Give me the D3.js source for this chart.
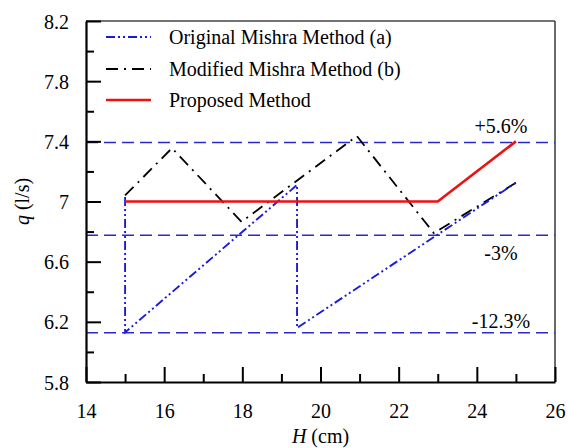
<!DOCTYPE html>
<html><head><meta charset="utf-8">
<script src="https://cdn.jsdelivr.net/npm/d3@7"></script>
<style>
body{margin:0;background:#fff;}
svg{display:block;}
</style></head>
<body>
<script>
// ---- data ----
const xTicks = [14, 16, 18, 20, 22, 24, 26];
const yTicks = [5.8, 6.2, 6.6, 7, 7.4, 7.8, 8.2];
const originalH = [15, 15, 19.4, 19.4, 25];
const originalQ = [7.03, 6.13, 7.11, 6.16, 7.125];
const modifiedH = [15, 16.2, 17.98, 20.93, 22.9, 25];
const modifiedQ = [7.04, 7.355, 6.865, 7.435, 6.79, 7.125];
const proposedH = [15, 23, 25];
const proposedQ = [7.0, 7.0, 7.4];
const refLevels = [7.392, 6.775, 6.128];
const refLabels = ["+5.6%", "-3%", "-12.3%"];
const refLabelOffset = [-10, 25, -5];
const seriesNames = ["Original Mishra Method (a)", "Modified Mishra Method (b)", "Proposed Method"];

const FONT = "'Liberation Serif', 'Times New Roman', 'DejaVu Serif', serif";
const W = 569, H = 448;
const m = {l: 86, t: 21, r: 555, b: 382};
const svg = d3.select("body").append("svg").attr("width", W).attr("height", H);
const x = d3.scaleLinear().domain([14, 26]).range([m.l, m.r]);
const y = d3.scaleLinear().domain([5.8, 8.2]).range([m.b, m.t]);

// frame top/right
svg.append("line").attr("x1", m.l).attr("x2", m.r).attr("y1", m.t).attr("y2", m.t)
  .attr("stroke", "#444").attr("stroke-width", 1.6);
svg.append("line").attr("x1", m.r).attr("x2", m.r).attr("y1", m.t).attr("y2", m.b)
  .attr("stroke", "#444").attr("stroke-width", 1.6);

// reference lines
const g = svg.append("g");
refLevels.forEach((v, i) => {
  g.append("line").attr("x1", m.l).attr("x2", m.r).attr("y1", y(v)).attr("y2", y(v))
    .attr("stroke", "#2a2acc").attr("stroke-width", 1.5).attr("stroke-dasharray", "12,6");
  g.append("text").attr("x", 501).attr("y", y(v) + refLabelOffset[i])
    .attr("text-anchor", "middle").attr("font-size", 20).text(refLabels[i]);
});

const line = d3.line().x(d => x(d[0])).y(d => y(d[1]));
const styles = [
  {c: "#1a1adb", w: 1.9, dash: "9,3,2,3,2,3"},
  {c: "#000", w: 1.8, dash: "12,6,2,6"},
  {c: "#ee1111", w: 2.7, dash: null}
];
const data = [
  d3.zip(originalH, originalQ),
  d3.zip(modifiedH, modifiedQ),
  d3.zip(proposedH, proposedQ)
];
[1, 0, 2].forEach(i => {
  svg.append("path").attr("d", line(data[i])).attr("fill", "none")
    .attr("stroke", styles[i].c).attr("stroke-width", styles[i].w)
    .attr("stroke-dasharray", styles[i].dash);
});

// legend
const ly = [37, 69, 100];
seriesNames.forEach((n, i) => {
  svg.append("line").attr("x1", 106).attr("x2", 151).attr("y1", ly[i]).attr("y2", ly[i])
    .attr("stroke", styles[i].c).attr("stroke-width", styles[i].w)
    .attr("stroke-dasharray", styles[i].dash);
  svg.append("text").attr("x", 169).attr("y", ly[i] + 7).attr("font-size", 20).text(n);
});

// axes
const xAxis = d3.axisBottom(x).tickValues(xTicks).tickSizeInner(-15).tickSizeOuter(0).tickPadding(22)
  .tickFormat(d3.format("d"));
const xg = svg.append("g").attr("transform", `translate(0,${m.b})`).call(xAxis);
const xMinor = d3.axisBottom(x).tickValues(d3.range(15, 26, 2)).tickSize(-8).tickFormat("");
svg.append("g").attr("transform", `translate(0,${m.b})`).call(xMinor).select(".domain").remove();

const yAxis = d3.axisLeft(y).tickValues(yTicks).tickSizeInner(-15).tickSizeOuter(0).tickPadding(17)
  .tickFormat(d => d === 7 ? "7" : d3.format(".1f")(d));
const yg = svg.append("g").attr("transform", `translate(${m.l},0)`).call(yAxis);
const yMinor = d3.axisLeft(y).tickValues([6.0, 6.4, 6.8, 7.2, 7.6, 8.0]).tickSize(-8).tickFormat("");
svg.append("g").attr("transform", `translate(${m.l},0)`).call(yMinor).select(".domain").remove();

svg.selectAll(".tick line").attr("stroke", "#000").attr("stroke-width", 2);
svg.selectAll(".domain").attr("stroke", "#000").attr("stroke-width", 2.2);
svg.selectAll(".tick text").attr("font-size", 20).attr("fill", "#000");
yg.selectAll(".tick text").attr("dy", "0.35em");

// axis titles
const xt = svg.append("text").attr("x", (m.l + m.r) / 2).attr("y", 443).attr("text-anchor", "middle").attr("font-size", 20);
xt.append("tspan").attr("font-style", "italic").text("H");
xt.append("tspan").text(" (cm)");
const yt = svg.append("text").attr("transform", `translate(29,${(m.t + m.b) / 2}) rotate(-90)`)
  .attr("text-anchor", "middle").attr("font-size", 20);
yt.append("tspan").attr("font-style", "italic").text("q");
yt.append("tspan").text(" (l/s)");

svg.selectAll("g").attr("font-family", null);
svg.selectAll("text").style("font-family", FONT).style("fill", "#000");
</script>
</body></html>
